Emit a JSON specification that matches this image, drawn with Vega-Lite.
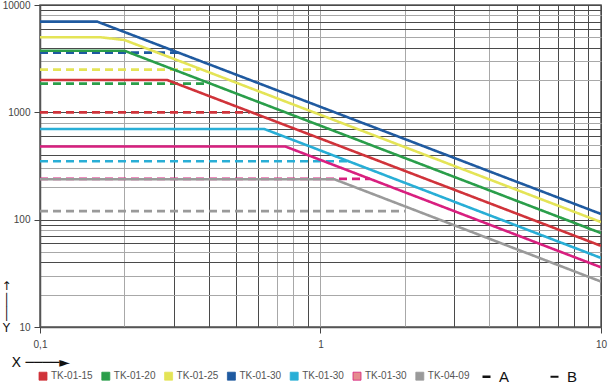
{
  "$schema": "https://vega.github.io/schema/vega-lite/v6.json",
  "width": 561,
  "height": 322,
  "autosize": {"type": "none"},
  "padding": {"left": 40, "top": 5, "right": 7, "bottom": 58},
  "background": "white",
  "config": {
    "font": "Liberation Sans",
    "view": {"stroke": "#5a5a5a", "strokeWidth": 1.5},
    "axis": {
      "labelFont": "Liberation Sans",
      "labelFontSize": 10,
      "labelColor": "#444",
      "domainColor": "#555",
      "domainWidth": 1.5,
      "tickColor": "#444",
      "tickSize": 6,
      "gridWidth": 1,
      "titleFont": "DejaVu Sans",
      "titleFontWeight": "normal",
      "titleColor": "#111"
    }
  },
  "data": {
    "values": [
      {"series": "TK-01-30a", "dash": "A", "x": 0.1, "y": 7000},
      {"series": "TK-01-30a", "dash": "A", "x": 0.16, "y": 7000},
      {"series": "TK-01-30a", "dash": "A", "x": 10, "y": 113},
      {"series": "TK-01-25", "dash": "A", "x": 0.1, "y": 5000},
      {"series": "TK-01-25", "dash": "A", "x": 0.165, "y": 5000},
      {"series": "TK-01-25", "dash": "A", "x": 0.2, "y": 4720},
      {"series": "TK-01-25", "dash": "A", "x": 10, "y": 95},
      {"series": "TK-01-20", "dash": "A", "x": 0.1, "y": 3750},
      {"series": "TK-01-20", "dash": "A", "x": 0.2, "y": 3750},
      {"series": "TK-01-20", "dash": "A", "x": 10, "y": 75},
      {"series": "TK-01-15", "dash": "A", "x": 0.1, "y": 2000},
      {"series": "TK-01-15", "dash": "A", "x": 0.284, "y": 2000},
      {"series": "TK-01-15", "dash": "A", "x": 10, "y": 57},
      {"series": "TK-01-30b", "dash": "A", "x": 0.1, "y": 700},
      {"series": "TK-01-30b", "dash": "A", "x": 0.63, "y": 700},
      {"series": "TK-01-30b", "dash": "A", "x": 10, "y": 44},
      {"series": "TK-01-30c", "dash": "A", "x": 0.1, "y": 480},
      {"series": "TK-01-30c", "dash": "A", "x": 0.75, "y": 480},
      {"series": "TK-01-30c", "dash": "A", "x": 10, "y": 36},
      {"series": "TK-04-09", "dash": "A", "x": 0.1, "y": 238},
      {"series": "TK-04-09", "dash": "A", "x": 1.12, "y": 238},
      {"series": "TK-04-09", "dash": "A", "x": 10, "y": 26.5},
      {"series": "TK-01-30a", "dash": "B", "x": 0.1, "y": 3600},
      {"series": "TK-01-30a", "dash": "B", "x": 0.315, "y": 3600},
      {"series": "TK-01-25", "dash": "B", "x": 0.1, "y": 2500},
      {"series": "TK-01-25", "dash": "B", "x": 0.37, "y": 2500},
      {"series": "TK-01-20", "dash": "B", "x": 0.1, "y": 1850},
      {"series": "TK-01-20", "dash": "B", "x": 0.405, "y": 1850},
      {"series": "TK-01-15", "dash": "B", "x": 0.1, "y": 1000},
      {"series": "TK-01-15", "dash": "B", "x": 0.56, "y": 1000},
      {"series": "TK-01-30b", "dash": "B", "x": 0.1, "y": 350},
      {"series": "TK-01-30b", "dash": "B", "x": 1.25, "y": 350},
      {"series": "TK-01-30c", "dash": "B", "x": 0.1, "y": 240},
      {"series": "TK-01-30c", "dash": "B", "x": 1.5, "y": 240},
      {"series": "TK-04-09", "dash": "B", "x": 0.1, "y": 120},
      {"series": "TK-04-09", "dash": "B", "x": 2.0, "y": 120}
    ]
  },
  "encoding": {
    "x": {
      "field": "x", "type": "quantitative",
      "scale": {"type": "log", "domain": [0.1, 10], "nice": false},
      "axis": {
        "values": [0.1,0.2,0.3,0.4,0.5,0.6,0.7,0.8,0.9,1,2,3,4,5,6,7,8,9,10],
        "labelExpr": "abs(log(datum.value)/LN10 - round(log(datum.value)/LN10)) < 1e-6 ? replace(format(datum.value, '~g'), '.', ',') : ''",
        "labelOverlap": false,
        "labelFlush": false,
        "labelPadding": 6,
        "grid": true,
        "gridColor": {"condition": {"test": "indexof([0.2,0.7,0.8,1,2,4], datum.value) >= 0", "value": "#a8a8a8"}, "value": "#4a4a4a"},
        "tickOpacity": {"condition": {"test": "abs(log(datum.value)/LN10 - round(log(datum.value)/LN10)) < 1e-6", "value": 1}, "value": 0},
        "title": "X ────►",
        "titleFontSize": 14,
        "titleAlign": "left",
        "titleBaseline": "middle",
        "titleX": -29,
        "titleY": 35
      }
    },
    "y": {
      "field": "y", "type": "quantitative",
      "scale": {"type": "log", "domain": [10, 10000], "nice": false},
      "axis": {
        "values": [10,20,30,40,50,60,70,80,90,100,200,300,400,500,600,700,800,900,1000,2000,3000,4000,5000,6000,7000,8000,9000,10000],
        "labelExpr": "abs(log(datum.value)/LN10 - round(log(datum.value)/LN10)) < 1e-6 ? format(datum.value, 'd') : ''",
        "labelOverlap": false,
        "labelFlush": false,
        "labelPadding": 4,
        "grid": true,
        "gridColor": {"condition": {"test": "indexof([20,30,50,80,200,300,500,800,2000,3000,5000,8000], datum.value) >= 0", "value": "#a8a8a8"}, "value": "#4a4a4a"},
        "tickOpacity": {"condition": {"test": "abs(log(datum.value)/LN10 - round(log(datum.value)/LN10)) < 1e-6", "value": 1}, "value": 0},
        "title": ["↑", "│", "│", "Y"],
        "titleFontSize": 12,
        "titleLineHeight": 14,
        "titleAngle": 0,
        "titleAlign": "center",
        "titleBaseline": "top",
        "titleX": -34,
        "titleY": 275
      }
    },
    "color": {
      "field": "series", "type": "nominal",
      "scale": {
        "domain": ["TK-01-15","TK-01-20","TK-01-25","TK-01-30a","TK-01-30b","TK-01-30c","TK-04-09"],
        "range": ["#d0333a","#2a9e4a","#e4e456","#1f5aa0","#28aed6","#d81f7f","#9a9a9a"]
      },
      "legend": {
        "orient": "none",
        "legendX": -2,
        "legendY": 366,
        "direction": "horizontal",
        "title": null,
        "columns": 7,
        "columnPadding": 6.8,
        "symbolType": "square",
        "symbolSize": 64,
        "labelFont": "Liberation Sans",
        "labelFontSize": 10,
        "labelColor": "#555",
        "labelOffset": 3,
        "labelExpr": "slice(datum.label, 0, 8)",
        "encode": {
          "symbols": {
            "update": {
              "fill": {"signal": "datum.index === 5 ? '#e58b8e' : scale('color', datum.value)"},
              "stroke": {"value": "#333"},
              "strokeWidth": {"value": 0.8},
              "fillOpacity": {"value": 1},
              "opacity": {"value": 1}
            }
          }
        }
      }
    },
    "strokeDash": {
      "field": "dash", "type": "nominal",
      "scale": {"domain": ["A", "B"], "range": [[1, 0], [8, 5]]},
      "legend": {
        "orient": "none",
        "legendX": 439,
        "legendY": 364,
        "direction": "horizontal",
        "title": null,
        "columns": 2,
        "columnPadding": 36,
        "symbolType": "stroke",
        "symbolSize": 64,
        "symbolStrokeWidth": 2.5,
        "symbolStrokeColor": "#111",
        "labelFont": "Liberation Sans",
        "labelFontSize": 15,
        "labelColor": "#111",
        "labelOffset": 5,
        "encode": {
          "symbols": {
            "update": {
              "strokeDash": {"signal": "datum.value === 'B' ? [1.2, 1.3] : [1, 0]"},
              "strokeWidth": {"signal": "datum.value === 'B' ? 2 : 2.5"},
              "stroke": {"value": "#111"}
            }
          }
        }
      }
    }
  },
  "layer": [
    {
      "transform": [{"filter": "datum.dash === 'B'"}],
      "mark": {"type": "line", "strokeWidth": 2.6, "clip": true}
    },
    {
      "transform": [{"filter": "datum.dash === 'A'"}],
      "mark": {"type": "line", "strokeWidth": 2.6, "clip": true}
    }
  ]
}
